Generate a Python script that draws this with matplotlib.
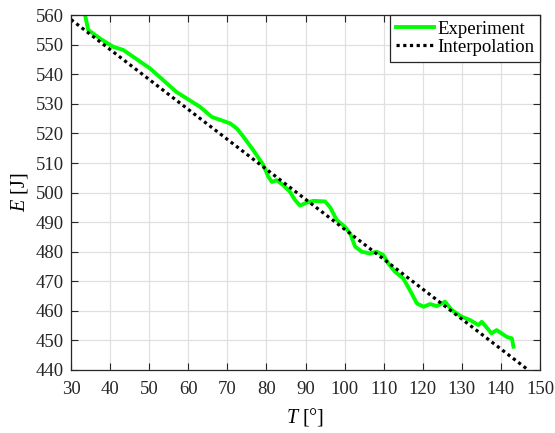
import matplotlib
matplotlib.use("Agg")
import matplotlib.pyplot as plt

# data
exp_T = [33.6, 34.4, 37.4, 40.8, 43.4, 50.2, 57.0, 63.0, 66.0, 70.7, 72.4, 74.1,
         76.6, 79.2, 80.5, 81.4, 82.6, 84.3, 86.0, 87.3, 88.6, 90.3, 92.0, 95.0,
         96.3, 98.0, 100.1, 101.4, 102.7, 104.4, 106.5, 108.2, 109.9, 111.2, 112.9,
         115.0, 116.7, 118.5, 120.2, 121.9, 123.6, 125.7, 127.4, 130.0, 132.1,
         134.2, 135.1, 137.6, 138.9, 141.5, 142.8, 143.2]
exp_E = [560.0, 555.0, 552.1, 549.3, 548.2, 542.0, 534.0, 529.0, 525.6, 523.4, 521.7, 518.9,
         514.4, 509.3, 505.3, 503.6, 504.2, 502.5, 500.3, 497.5, 495.6, 496.6, 497.2, 497.0,
         495.0, 490.7, 488.4, 486.2, 481.7, 480.0, 479.4, 480.0, 478.9, 476.0, 473.2,
         471.0, 467.0, 462.5, 461.4, 462.3, 461.6, 463.1, 460.3, 458.0, 456.9,
         455.2, 456.3, 452.4, 453.5, 451.2, 450.7, 447.9]

interp_T = [30, 147.0]
interp_E = [558.5, 440.0]

plt.rcParams['font.family'] = ['Liberation Serif', 'DejaVu Serif']
plt.rcParams['mathtext.fontset'] = 'custom'
plt.rcParams['mathtext.it'] = 'Liberation Serif:italic'
plt.rcParams['mathtext.rm'] = 'Liberation Serif'

fig = plt.figure(figsize=(5.55, 4.33), dpi=100)
ax = fig.add_axes([0.128, 0.1455, 0.845, 0.8195])

ax.plot(exp_T, exp_E, color='#00ff00', linewidth=2.8, label='Experiment')
ax.plot(interp_T, interp_E, color='black', linestyle=(0, (1, 1.1)), linewidth=2.3,
        label='Interpolation')

ax.set_xlim(30, 150)
ax.set_ylim(440, 560)
ax.set_xticks(range(30, 151, 10))
ax.set_yticks(range(440, 561, 10))
ax.tick_params(direction='in', top=True, right=True, labelsize=13.5, length=5,
               width=0.8, colors='#262626')
ax.tick_params(axis='x', pad=8)
ax.tick_params(axis='y', pad=5)
ax.grid(True, color='#e0e0e0', linewidth=0.9)
for s in ax.spines.values():
    s.set_color('#262626')
    s.set_linewidth(0.9)

ax.set_xlabel('$T$ [°]', fontsize=14.5, labelpad=6)
ax.set_ylabel('$E$ [J]', fontsize=14.5, labelpad=4)

leg = ax.legend(loc='upper right', fontsize=13.5, fancybox=False, framealpha=1,
                edgecolor='#262626', borderpad=0.3, handlelength=2.0,
                handletextpad=0.2, borderaxespad=0, labelspacing=0.05)
leg.get_frame().set_linewidth(0.9)

plt.savefig('out.png', dpi=100)
